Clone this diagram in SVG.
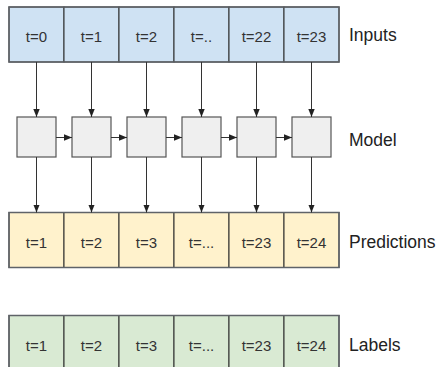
<svg xmlns="http://www.w3.org/2000/svg" width="441" height="367" viewBox="0 0 441 367">
<style>
.cell{stroke:#2b2b2b;stroke-width:1}
.in{fill:#cfe2f3}
.pr{fill:#fff2cc}
.lb{fill:#d9ead3}
.md{fill:#efefef;stroke:#555555;stroke-width:1.2}
.row{fill:none;stroke:#5f6368;stroke-width:1.5}
.t{font-family:"Liberation Sans",Arial,sans-serif;font-size:15px;fill:#333333;text-anchor:middle}
.lab{font-family:"Liberation Sans",Arial,sans-serif;font-size:17.5px;fill:#222222}
.c{stroke:#333333;stroke-width:1;fill:none;marker-end:url(#ah)}
</style>
<defs>
<marker id="ah" viewBox="0 0 8 8" refX="8" refY="4" markerWidth="8" markerHeight="8" markerUnits="userSpaceOnUse" orient="auto">
<path d="M0,0.8 L8,4 L0,7.2 Z" fill="#222222"/>
</marker>
</defs>
<rect width="441" height="367" fill="#ffffff"/>
<g id="inputs">
<g id="in0"><rect class="cell in" x="9" y="7" width="55" height="55"/><text class="t" x="36.5" y="41.5">t=0</text></g>
<g id="in1"><rect class="cell in" x="64" y="7" width="55" height="55"/><text class="t" x="91.5" y="41.5">t=1</text></g>
<g id="in2"><rect class="cell in" x="119" y="7" width="55" height="55"/><text class="t" x="146.5" y="41.5">t=2</text></g>
<g id="in3"><rect class="cell in" x="174" y="7" width="55" height="55"/><text class="t" x="201.5" y="41.5">t=..</text></g>
<g id="in4"><rect class="cell in" x="229" y="7" width="55" height="55"/><text class="t" x="256.5" y="41.5">t=22</text></g>
<g id="in5"><rect class="cell in" x="284" y="7" width="55" height="55"/><text class="t" x="311.5" y="41.5">t=23</text></g>
<rect class="row" x="9" y="7" width="330" height="55"/>
</g>
<g id="model">
<g id="m0"><rect class="md" x="17" y="117" width="39" height="40"/></g>
<g id="m1"><rect class="md" x="72" y="117" width="39" height="40"/></g>
<g id="m2"><rect class="md" x="127" y="117" width="39" height="40"/></g>
<g id="m3"><rect class="md" x="182" y="117" width="39" height="40"/></g>
<g id="m4"><rect class="md" x="237" y="117" width="39" height="40"/></g>
<g id="m5"><rect class="md" x="292" y="117" width="39" height="40"/></g>
</g>
<g id="predictions">
<g id="p0"><rect class="cell pr" x="9" y="212.5" width="55" height="55"/><text class="t" x="36.5" y="247.5">t=1</text></g>
<g id="p1"><rect class="cell pr" x="64" y="212.5" width="55" height="55"/><text class="t" x="91.5" y="247.5">t=2</text></g>
<g id="p2"><rect class="cell pr" x="119" y="212.5" width="55" height="55"/><text class="t" x="146.5" y="247.5">t=3</text></g>
<g id="p3"><rect class="cell pr" x="174" y="212.5" width="55" height="55"/><text class="t" x="201.5" y="247.5">t=...</text></g>
<g id="p4"><rect class="cell pr" x="229" y="212.5" width="55" height="55"/><text class="t" x="256.5" y="247.5">t=23</text></g>
<g id="p5"><rect class="cell pr" x="284" y="212.5" width="55" height="55"/><text class="t" x="311.5" y="247.5">t=24</text></g>
<rect class="row" x="9" y="212.5" width="330" height="55"/>
</g>
<g id="labels">
<g id="l0"><rect class="cell lb" x="9" y="315.5" width="55" height="55"/><text class="t" x="36.5" y="350.5">t=1</text></g>
<g id="l1"><rect class="cell lb" x="64" y="315.5" width="55" height="55"/><text class="t" x="91.5" y="350.5">t=2</text></g>
<g id="l2"><rect class="cell lb" x="119" y="315.5" width="55" height="55"/><text class="t" x="146.5" y="350.5">t=3</text></g>
<g id="l3"><rect class="cell lb" x="174" y="315.5" width="55" height="55"/><text class="t" x="201.5" y="350.5">t=...</text></g>
<g id="l4"><rect class="cell lb" x="229" y="315.5" width="55" height="55"/><text class="t" x="256.5" y="350.5">t=23</text></g>
<g id="l5"><rect class="cell lb" x="284" y="315.5" width="55" height="55"/><text class="t" x="311.5" y="350.5">t=24</text></g>
<rect class="row" x="9" y="315.5" width="330" height="55"/>
</g>
<g id="row-labels">
<text class="lab" x="349" y="41">Inputs</text>
<text class="lab" x="349" y="145.5">Model</text>
<text class="lab" x="349" y="247.5">Predictions</text>
<text class="lab" x="349" y="350.5">Labels</text>
</g>
<g id="connectors">
<path class="c" d="M36.5,62 V117"/>
<path class="c" d="M91.5,62 V117"/>
<path class="c" d="M146.5,62 V117"/>
<path class="c" d="M201.5,62 V117"/>
<path class="c" d="M256.5,62 V117"/>
<path class="c" d="M311.5,62 V117"/>
<path class="c" d="M36.5,157 V212.5"/>
<path class="c" d="M91.5,157 V212.5"/>
<path class="c" d="M146.5,157 V212.5"/>
<path class="c" d="M201.5,157 V212.5"/>
<path class="c" d="M256.5,157 V212.5"/>
<path class="c" d="M311.5,157 V212.5"/>
<path class="c" d="M56,137.5 H72"/>
<path class="c" d="M111,137.5 H127"/>
<path class="c" d="M166,137.5 H182"/>
<path class="c" d="M221,137.5 H237"/>
<path class="c" d="M276,137.5 H292"/>
</g>
</svg>
